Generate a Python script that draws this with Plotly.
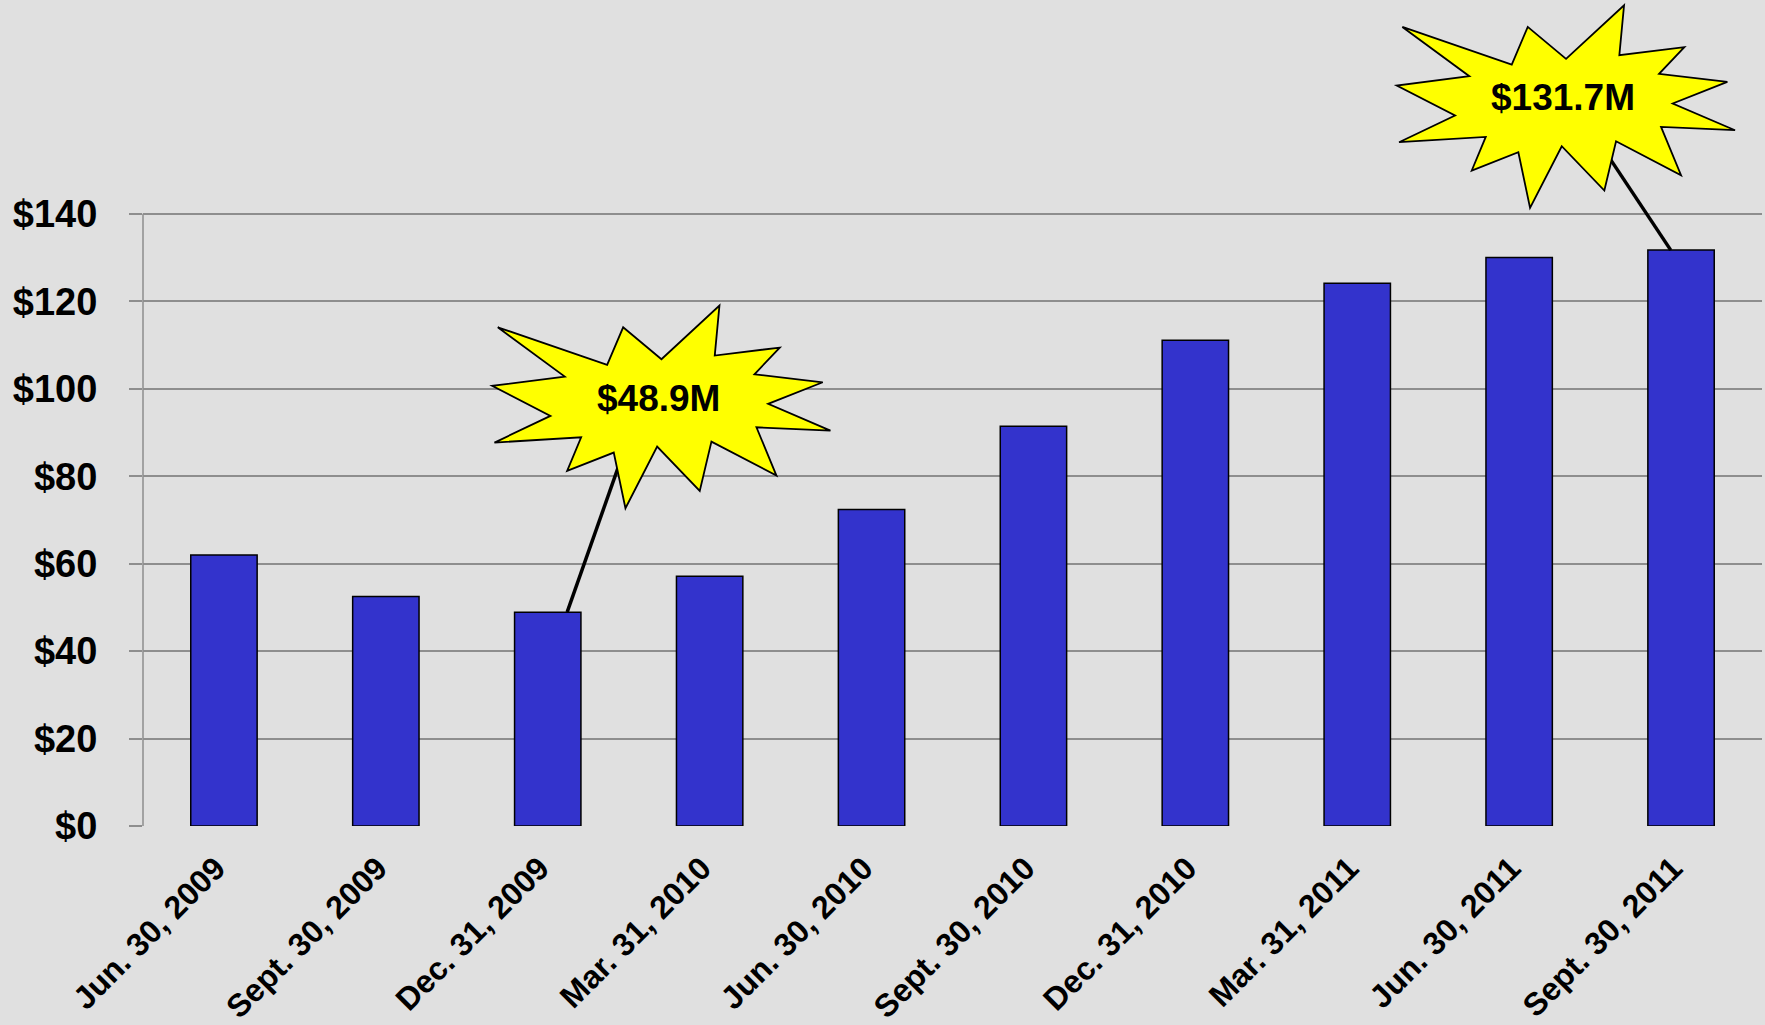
import plotly.graph_objects as go

# ---- data ----
quarters = ["Jun. 30, 2009", "Sept. 30, 2009", "Dec. 31, 2009", "Mar. 31, 2010",
            "Jun. 30, 2010", "Sept. 30, 2010", "Dec. 31, 2010", "Mar. 31, 2011",
            "Jun. 30, 2011", "Sept. 30, 2011"]
values = [62.0, 52.5, 48.9, 57.1, 72.4, 91.4, 111.1, 124.1, 130.0, 131.7]
y_ticks = [0, 20, 40, 60, 80, 100, 120, 140]
y_tick_labels = ["$" + str(v) for v in y_ticks]
highlight = [2, 9]  # indexes of the called-out bars

# ---- styling / callout geometry (pixels) ----
BG = "#e0e0e0"
BAR = "#3333cc"
GRID = "#8e8e8e"
FONT = "Liberation Sans, Arial, sans-serif"

# star outline relative to the label centre (x right, y down)
STAR = [(-161, -71), (-51.6, -33.4), (-35.6, -71), (2.7, -39), (60.7, -92.7),
        (56, -42.7), (121, -50.7), (95.7, -24), (164, -16), (109.4, 5.6),
        (171.7, 32.3), (97.7, 29), (117.7, 77.3), (52.7, 43.3), (41, 92.6),
        (-1.6, 48.3), (-33.3, 110), (-45, 54.3), (-91.6, 72.6), (-77.6, 39),
        (-164.3, 44.3), (-108.3, 17.6), (-166.6, -12.4), (-94, -21.7)]

# placement per callout: label centre offset from bar top, connector geometry
CALLOUT_LAYOUT = {
    2: dict(tx=111, ty=213.9, lx0=19.4, lx1=77.4, ly1=164.6),
    9: dict(tx=-117.7, ty=152.2, lx0=-10.3, lx1=-85.7, ly1=113.5),
}

x_idx = list(range(len(quarters)))

fig = go.Figure()
fig.add_trace(go.Bar(
    x=x_idx, y=values, width=0.41,
    marker=dict(color=BAR, line=dict(color="black", width=1.5)),
    hoverinfo="skip",
))

shapes = []
annotations = []
# vertical axis line, only up to the top gridline
shapes.append(dict(type="line", xref="paper", x0=0, x1=0, yref="y",
                   y0=0, y1=y_ticks[-1], line=dict(color=GRID, width=1.5),
                   layer="above"))

for i in highlight:
    g = CALLOUT_LAYOUT[i]
    v = values[i]
    shapes.append(dict(type="line", xref="x", yref="y",
                       xsizemode="pixel", ysizemode="pixel",
                       xanchor=i, yanchor=v,
                       x0=g["lx0"], y0=0, x1=g["lx1"], y1=g["ly1"],
                       line=dict(color="black", width=3.5), layer="above"))
    pts = [(g["tx"] + px, g["ty"] - py) for px, py in STAR]
    path = "M " + " L ".join(f"{px:.1f},{py:.1f}" for px, py in pts) + " Z"
    shapes.append(dict(type="path", xref="x", yref="y",
                       xsizemode="pixel", ysizemode="pixel",
                       xanchor=i, yanchor=v, path=path,
                       fillcolor="#ffff00", line=dict(color="black", width=1.8),
                       layer="above"))
    annotations.append(dict(x=i, y=v, xref="x", yref="y", showarrow=False,
                            xshift=g["tx"], yshift=g["ty"],
                            text=f"<b>${v}M</b>",
                            font=dict(family=FONT, size=37, color="black")))

fig.update_layout(
    width=1765, height=1025,
    margin=dict(l=142.5, r=3, t=0, b=195, pad=0),
    paper_bgcolor=BG, plot_bgcolor=BG,
    showlegend=False,
    shapes=shapes, annotations=annotations,
    font=dict(family=FONT, color="black"),
    xaxis=dict(
        range=[-0.5, len(quarters) - 0.5],
        tickmode="array", tickvals=x_idx,
        ticktext=[f"<b>{q}</b>" for q in quarters],
        tickangle=-45, tickfont=dict(family=FONT, size=32, color="black"),
        showgrid=False, zeroline=False, showline=False, ticks="",
        ticklabelstandoff=16, ticklabelshift=-8,
    ),
    yaxis=dict(
        range=[0, 188.9],
        tickmode="array", tickvals=y_ticks,
        ticktext=[f"<b>{t}</b>" for t in y_tick_labels],
        tickfont=dict(family=FONT, size=38, color="black"),
        showgrid=True, gridcolor=GRID, gridwidth=1.5,
        zeroline=False, showline=False,
        ticks="outside", ticklen=13, tickcolor=GRID, tickwidth=1.5,
        ticklabelstandoff=24,
    ),
)

fig.write_html(
    "out.html",
    config={"displayModeBar": False},
    post_script="document.body.style.margin='0px';document.body.style.padding='0px';"
                "document.body.style.background='" + BG + "';",
)
